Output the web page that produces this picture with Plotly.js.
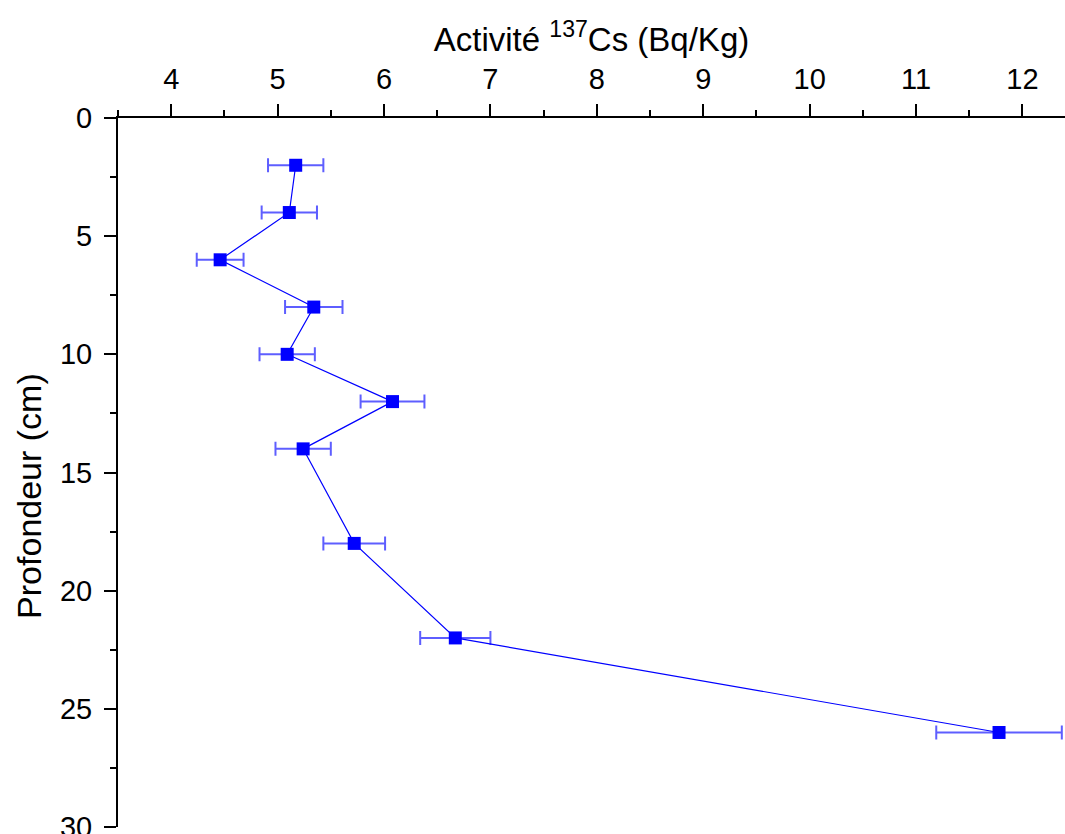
<!DOCTYPE html>
<html>
<head>
<meta charset="utf-8">
<script src="https://cdn.plot.ly/plotly-3.0.1.min.js"></script>
<style>html,body{margin:0;padding:0;background:#fff;}#chart{width:1065px;height:834px;}</style>
</head>
<body>
<div id="chart"></div>
<script>
const depth = [2, 4, 6, 8, 10, 12, 14, 18, 22, 26];
const activity = [5.17, 5.11, 4.46, 5.34, 5.09, 6.08, 5.24, 5.72, 6.67, 11.78];
const activityErr = [0.26, 0.26, 0.22, 0.27, 0.26, 0.30, 0.26, 0.29, 0.33, 0.59];
const xTitle = 'Activité <sup>137</sup>Cs (Bq/Kg)';
const yTitle = 'Profondeur (cm)';

const trace = {
  x: activity,
  y: depth,
  type: 'scatter',
  mode: 'lines+markers',
  line: {color: '#0000ff', width: 1.2},
  marker: {symbol: 'square', size: 13, color: '#0000ff'},
  error_x: {type: 'data', array: activityErr, visible: true, color: 'rgba(40,40,255,0.75)', thickness: 2, width: 7},
  showlegend: false
};

const ff = 'Liberation Sans, Arial, sans-serif';
const layout = {
  width: 1065, height: 834,
  margin: {l: 118, r: 0, t: 118, b: 7},
  paper_bgcolor: '#fff', plot_bgcolor: '#fff',
  font: {family: ff, color: '#000'},
  xaxis: {
    side: 'top', range: [3.5, 12.4], tick0: 0, dtick: 1,
    ticks: 'outside', ticklen: 12, tickwidth: 2, tickcolor: '#000',
    minor: {dtick: 0.5, ticks: 'outside', ticklen: 6, tickwidth: 2, tickcolor: '#000'},
    showline: true, linewidth: 2, linecolor: '#000',
    showgrid: false, zeroline: false,
    tickfont: {size: 29, family: ff},
    ticklabelstandoff: 3,
    ticklabeloverflow: 'allow',
    title: {text: xTitle, font: {size: 33, family: ff}, standoff: 2}
  },
  yaxis: {
    range: [30, 0], tick0: 0, dtick: 5,
    ticks: 'outside', ticklen: 12, tickwidth: 2, tickcolor: '#000',
    minor: {dtick: 2.5, ticks: 'outside', ticklen: 6, tickwidth: 2, tickcolor: '#000'},
    showline: true, linewidth: 2, linecolor: '#000',
    showgrid: false, zeroline: false,
    tickfont: {size: 29, family: ff},
    ticklabelstandoff: 6,
    ticklabeloverflow: 'allow'
  },
  annotations: [{
    text: yTitle, textangle: -90, showarrow: false,
    xref: 'paper', yref: 'paper', x: -0.094, y: 0.467,
    xanchor: 'center', yanchor: 'middle',
    font: {size: 34, family: ff, color: '#000'}
  }]
};

Plotly.newPlot('chart', [trace], layout, {displayModeBar: false, responsive: false});
</script>
</body>
</html>
